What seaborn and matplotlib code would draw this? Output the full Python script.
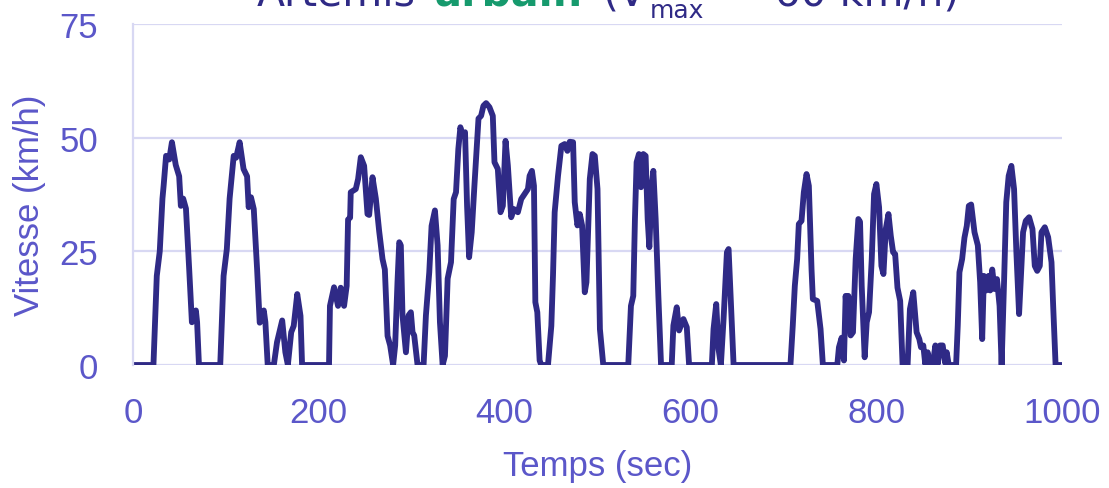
import matplotlib
matplotlib.use("Agg")
import matplotlib.pyplot as plt
import pandas as pd
import seaborn as sns

# Cycle Artemis urbain : temps (s) et vitesse (km/h)
temps = [0, 22, 25.6, 28.8, 31.7, 33, 35.6, 39, 41.9, 46, 49.7, 51.5, 54, 57, 60.5, 63.4, 67.7, 69, 71,
         93.9, 97.5, 101, 104, 108.4, 111, 114.8, 119, 122.8, 124.5, 127, 130, 133.6, 136.4, 140.8, 142.5, 145,
         151.6, 155, 160.6, 164, 166.7, 170.3, 173, 176.8, 180.3, 182,
         211, 212, 216.4, 220.7, 223.6, 227.2, 230, 231.5, 233.7, 234.4, 239.8, 242.3, 245.2, 248.8, 252.4,
         254.2, 257.8, 261.4, 265, 268.6, 271.1, 274, 276.8, 280, 282.2, 284.7, 286.6, 288.3, 290.1, 293.8,
         296.6, 299.1, 300.9, 302.7, 306.3, 312.8, 315.3, 318.9, 321.4, 325, 327.9, 330.4, 333.3, 335.8,
         338.7, 342.3, 345.2, 347.7, 350.2, 352.4, 354.6, 357.4, 359.6, 361.8, 364.6, 367.5, 370.4, 371.9,
         374.7, 377.2, 380.1, 383.7, 387.3, 389.1, 392.7, 395.6, 398.1, 401, 403.5, 407.1, 410, 414.3, 417.9,
         421.5, 425.1, 426.9, 429.4, 431.6, 433.1, 435.2, 437.7, 439.5, 446.7, 450.3, 452.1, 453.9, 457.5,
         461.1, 464.7, 467.6, 470.1, 473.7, 475.5, 478.4, 480.9, 483.4, 486.3, 488.1, 491.7, 494.6, 497.1,
         500, 502.6, 506.2, 533.1, 536, 538.5, 540.3, 542.1, 544.6, 546.8, 549.3, 551.8, 554, 555.8, 558.3,
         560.1, 562.6, 565.5, 568.4, 579.9, 581.7, 585.3, 587.8, 592.5, 596.1, 598.6, 623.1, 624.9, 627.8,
         630.3, 632.8, 635.7, 639.3, 641.1, 644, 646.5, 707.7, 710.2, 712.4, 714.9, 716.7, 719.6, 722.1,
         725, 727.5, 730.4, 731.8, 736.5, 740.1, 742.6, 758.1, 759.9, 762.8, 765.3, 767.1, 768.9, 770,
         772.5, 775, 777.9, 780.8, 782.6, 784.4, 787.6, 789.8, 792.3, 795.2, 797.7, 800.2, 803.1, 805.6,
         807.8, 810.3, 813.2, 815.7, 818.2, 820.4, 822.9, 825.8, 828.4, 833.8, 836.3, 839.9, 843.5, 846.4,
         848.2, 850.7, 852.8, 855.4, 857.9, 860.8, 863.7, 866.2, 868.7, 871.6, 874.1, 875.9, 878.1, 886,
         887.8, 889.6, 892.5, 895, 897.5, 899.7, 902.2, 905.8, 909.4, 911.9, 914.1, 915.9, 918.4, 920.9,
         922.7, 924.9, 927.4, 930, 932.8, 935, 937.5, 940, 942.6, 945.5, 948.4, 950.9, 953.8, 955.6, 958.1,
         961, 964.6, 968.2, 970.7, 973.3, 976.1, 977.9, 981.5, 985.1, 988.7, 990.5, 993.1, 999.5]
vitesse = [0, 0, 19.6, 25, 36.6, 39.5, 46, 45.2, 49, 44, 41.5, 35, 36.6, 34.4, 21, 9.4, 12, 9.4, 0,
           0, 19.6, 25.5, 36.6, 46, 45.6, 49, 43.1, 41.5, 34.7, 36.9, 34.3, 21, 9.3, 12, 9.4, 0,
           0, 5, 9.8, 2.8, 0, 7.2, 8.6, 15.6, 10.8, 0,
           0, 13, 17.1, 13, 17, 13, 17.4, 32, 32.4, 38, 38.7, 40.9, 45.7, 43.8, 33.2,
           33, 41.3, 36.6, 29.4, 23.3, 21, 6.4, 4.3, 0, 4.3, 18.2, 27, 26.3, 10.9, 2.8,
           10.9, 11.6, 7.2, 6.5, 0, 0, 10.9, 20.4, 30.6, 34, 26.3, 9.4, 0, 2,
           19, 22.6, 36.5, 38, 47.5, 52.3, 50.4, 51.2, 35, 23.7, 29.2, 39.4, 49, 54.2,
           54.8, 57, 57.6, 56.7, 54.8, 44.6, 43.1, 33.6, 35, 49.3, 43.9, 32.5, 34.3, 33.6, 36.5,
           37.6, 38.7, 41.6, 42.7, 39.4, 13.8, 11.6, 1, 0, 0, 8.6, 19.7, 33.6, 41.6,
           48.2, 48.6, 47.1, 49.1, 49, 35.8, 30.7, 33.2, 30.7, 16, 18.2, 40.9, 46.4, 46,
           38.7, 7.9, 0, 0, 13, 15.2, 32.1, 44.6, 46.4, 39.1, 46.4, 46, 32.1, 25.9, 39.4,
           42.7, 32.1, 15.2, 0, 0, 8.7, 12.7, 7.6, 10.1, 8.3, 0, 0, 7.9, 13.4,
           3.5, 0, 10.1, 24.8, 25.5, 11.6, 0, 0, 8.7, 17.4, 23.3, 31, 31.7, 38,
           42, 39.4, 21, 14.5, 14.1, 7.9, 0, 0, 3.9, 6, 1, 15.2, 10.1, 15.2,
           6.5, 7.2, 23.3, 32.1, 31.5, 17.4, 1.7, 9.4, 11.6, 23.3, 37.6, 39.8, 34.7, 21.8,
           20, 29.9, 33.2, 28.4, 24.8, 24.4, 17, 14.1, 0, 0, 12.3, 16, 7.2, 5.7,
           3.9, 4.3, 0.2, 2.8, 0.2, 0, 4.3, 0.2, 4.3, 4.3, 0.5, 2.8, 0, 0,
           8.7, 20.4, 23.3, 28, 30.6, 35, 35.3, 29.2, 26.3, 18.2, 5.7, 19.6, 16.4, 19.6,
           16.4, 21, 16.7, 18.9, 13, 0, 17.4, 35.8, 41.6, 43.8, 38.7, 24.8, 11.2, 18.9, 29.2,
           31.7, 32.5, 29.9, 21.8, 20.7, 21.8, 29.2, 30.3, 28.1, 22.6, 13, 0, 0]

graduations_x = [0, 200, 400, 600, 800, 1000]
graduations_y = [0, 25, 50, 75]

LIGNE = "#2f2a86"
TEXTE = "#5b57c9"
GRILLE = "#d8d8f3"
VERT = "#169a6d"

sns.set_theme(style="white")
plt.rcParams["font.family"] = ["Liberation Sans", "DejaVu Sans"]

W, H = 1109, 489
fig = plt.figure(figsize=(W / 100, H / 100), dpi=100)
ax = fig.add_axes([133 / W, 1 - 366 / H, (1062 - 133) / W, (366 - 25) / H])

df = pd.DataFrame({"temps": temps, "vitesse": vitesse})
sns.lineplot(data=df, x="temps", y="vitesse", ax=ax, color=LIGNE,
             linewidth=4.2, estimator=None, sort=False)
ligne = ax.lines[0]
ligne.set_solid_joinstyle("round")
ligne.set_solid_capstyle("round")

ax.set_xlim(0, 1000)
ax.set_ylim(0, 75)
ax.set_xticks(graduations_x)
ax.set_yticks(graduations_y)
ax.yaxis.grid(True, color=GRILLE, linewidth=1.6)
ax.xaxis.grid(False)
ax.set_axisbelow(True)
for cote in ["top", "right", "bottom"]:
    ax.spines[cote].set_visible(False)
ax.spines["left"].set_color(GRILLE)
ax.spines["left"].set_linewidth(1.6)
ax.tick_params(axis="both", length=0, labelsize=25, labelcolor=TEXTE)
ax.tick_params(axis="y", pad=25)
ax.tick_params(axis="x", pad=22)

ax.set_xlabel("Temps (sec)", fontsize=25, color=TEXTE)
ax.set_ylabel("Vitesse (km/h)", fontsize=25, color=TEXTE)
ax.xaxis.label.set_va("center")
ax.yaxis.label.set_va("center")
ax.xaxis.set_label_coords(0.5, (366 - 467) / 341)
ax.yaxis.set_label_coords((30 - 133) / 929, (366 - 205) / 341)

# Titre coupé en haut de l'image, en plusieurs morceaux
base = 1 - 5.5 / H
morceaux = [
    ("Artemis", LIGNE, "normal", 29.5, 257, base),
    ("urbain", VERT, "bold", 29.5, 433, base),
    ("(V", LIGNE, "normal", 29.5, 603, base),
    ("max", LIGNE, "normal", 18, 650, 1 - 17.5 / H),
    ("= 60 km/h)", LIGNE, "normal", 29.5, 727, base),
]
for texte, couleur, poids, taille, gauche, y in morceaux:
    fig.text(gauche / W, y, texte, color=couleur, fontweight=poids, fontsize=taille,
             ha="left", va="baseline", family="DejaVu Sans")

fig.savefig("out.png", dpi=100)
